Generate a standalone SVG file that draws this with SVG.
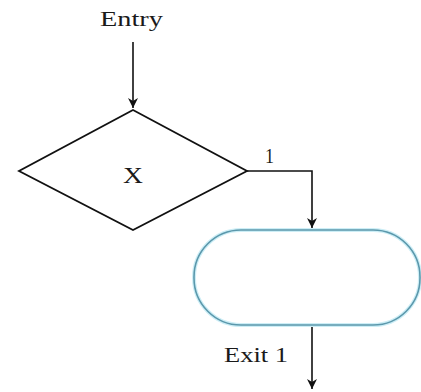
<svg xmlns="http://www.w3.org/2000/svg" width="421" height="392" viewBox="0 0 421 392">
<style>
text{font-family:"Liberation Serif","Times New Roman",serif;fill:#1a1a1a}
.ln{fill:none;stroke:#111;stroke-width:1.6}
</style>
<defs>
<marker id="ah" markerWidth="10" markerHeight="14" refX="10" refY="5" orient="auto" markerUnits="userSpaceOnUse" viewBox="0 0 10 10">
<path d="M0,0 L10,5 L0,10 L3,5 Z" fill="#111"/>
</marker>
</defs>
<rect width="421" height="392" fill="#fff"/>
<g id="connectors">
<line class="ln" x1="133" y1="42" x2="133" y2="108" marker-end="url(#ah)"/>
<polyline class="ln" points="247,171 312,171 312,228" marker-end="url(#ah)"/>
<line class="ln" x1="312" y1="325" x2="312" y2="389" marker-end="url(#ah)"/>
<text x="265" y="163" font-size="21" textLength="9" lengthAdjust="spacingAndGlyphs">1</text>
<text x="224" y="362" font-size="22" textLength="64" lengthAdjust="spacingAndGlyphs">Exit 1</text>
</g>
<g id="entry">
<text x="100" y="26" font-size="22" textLength="63" lengthAdjust="spacingAndGlyphs">Entry</text>
</g>
<g id="decision">
<polygon points="133,110 247,171 133,230 19,171" fill="#fff" stroke="#111" stroke-width="1.8" stroke-linejoin="miter"/>
<text x="123" y="183" font-size="23" textLength="20" lengthAdjust="spacingAndGlyphs">X</text>
</g>
<g id="process">
<rect x="194" y="230" width="226" height="95" rx="47" ry="47" fill="#fff" stroke="#cdeef6" stroke-width="4"/>
<rect x="194" y="230" width="226" height="95" rx="47" ry="47" fill="none" stroke="#5b98ac" stroke-width="1.6"/>
</g>
</svg>
